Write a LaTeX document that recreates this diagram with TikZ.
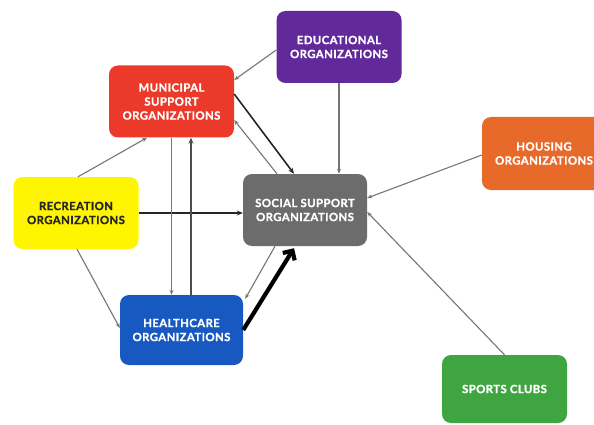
\documentclass[tikz,border=0pt]{standalone}
\usepackage{fontspec}
\setmainfont{Lato}[BoldFont={Lato Bold}, BoldFeatures={FakeBold=1.3, LetterSpace=4}]
\usetikzlibrary{arrows.meta,calc}
\definecolor{cred}{HTML}{EC3A2A}
\definecolor{cpurple}{HTML}{62299A}
\definecolor{cgray}{HTML}{6C6C6C}
\definecolor{cyellow}{HTML}{FFF500}
\definecolor{cblue}{HTML}{1759C0}
\definecolor{corange}{HTML}{E76A2B}
\definecolor{cgreen}{HTML}{3FA540}
\definecolor{cline}{HTML}{767676}
\tikzset{
  orgbox/.style={rounded corners=9pt, minimum width=125pt, minimum height=72pt,
    inner sep=2pt, align=center, text=white, font=\bfseries\fontsize{11.3}{14}\selectfont},
  thinarr/.style={draw=cline, line width=1.1pt, -{Stealth[length=5pt,width=4pt]}},
  darkarr/.style={draw=black!85, line width=1.6pt, -{Stealth[length=6pt,width=5pt]}},
  midarr/.style={draw=black!70, line width=1.5pt, -{Stealth[length=6pt,width=5pt]}},
  bigarr/.style={draw=black, line width=4.2pt, -{Straight Barb[length=7pt,width=14pt]}},
}
\begin{document}
\begin{tikzpicture}[x=1pt,y=-1pt]
\clip (0,0) rectangle (594,425);
\fill[white] (0,0) rectangle (594,425);
\node[orgbox, fill=cred] (mun) at (171.5,101.5) {MUNICIPAL\\SUPPORT\\ORGANIZATIONS};
\node[orgbox, fill=cpurple] (edu) at (339,47) {EDUCATIONAL\\ORGANIZATIONS};
\node[orgbox, fill=cgray, minimum width=124pt] (soc) at (305,210) {SOCIAL SUPPORT\\ORGANIZATIONS};
\node[orgbox, fill=cyellow, text=black!85] (rec) at (76,213) {RECREATION\\ORGANIZATIONS};
\node[orgbox, fill=cblue, minimum width=123pt, minimum height=70pt] (hc) at (181.5,330) {HEALTHCARE\\ORGANIZATIONS};
\node[orgbox, fill=corange, minimum width=124pt, minimum height=73pt] (hou) at (544,153.5) {HOUSING\\ORGANIZATIONS};
\node[orgbox, fill=cgreen, minimum height=68pt] (spo) at (504.5,389) {SPORTS CLUBS};

% connectors
\draw[thinarr] ($(edu.west)+(0,3)$) -- ($(mun.east)+(0,-21.5)$);
\draw[thinarr] (edu.south) -- (edu.south |- soc.north);
\draw[darkarr] ($(mun.east)+(0,-7.5)$) -- ($(soc.north)+(-11,0)$);
\draw[thinarr] ($(soc.north)+(-28,0)$) -- ($(mun.east)+(0,18.5)$);
\draw[thinarr] ($(rec.north)+(2,0)$) -- ($(mun.south)+(-24.5,0)$);
\draw[darkarr] (rec.east) -- (rec.east -| soc.west);
\draw[thinarr] (mun.south) -- (mun.south |- hc.north);
\draw[midarr] ($(hc.north)+(9.5,0)$) -- ($(mun.south)+(19.5,0)$);
\draw[thinarr] ($(rec.south)+(1,0)$) -- ($(hc.west)+(0,-2)$);
\draw[thinarr] ($(soc.south)+(-30,0)$) -- ($(hc.north east)+(2,4)$);
\draw[bigarr] (hc.east) -- ($(soc.south)+(-11,2)$);
\draw[thinarr] ($(hou.west)+(0,1.5)$) -- ($(soc.east)+(0,-12)$);
\draw[thinarr] (spo.north) -- ($(soc.east)+(0,2)$);
\end{tikzpicture}
\end{document}
